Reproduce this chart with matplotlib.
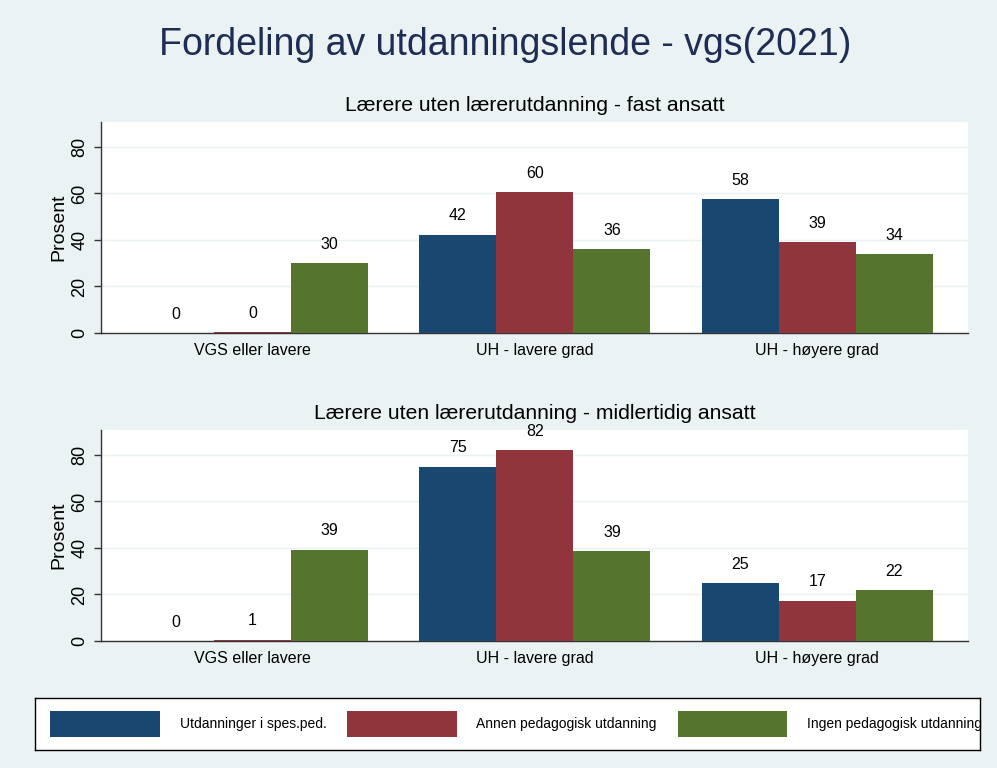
import matplotlib
matplotlib.use("Agg")
import matplotlib.pyplot as plt
import numpy as np
from matplotlib.patches import Patch

plt.rcParams['font.family'] = ['Liberation Sans', 'DejaVu Sans']

title = "Fordeling av utdanningslende - vgs(2021)"
categories = ["VGS eller lavere", "UH - lavere grad", "UH - høyere grad"]
series_names = ["Utdanninger i spes.ped.", "Annen pedagogisk utdanning", "Ingen pedagogisk utdanning"]
panel_titles = ["Lærere uten lærerutdanning - fast ansatt",
                "Lærere uten lærerutdanning - midlertidig ansatt"]
# values per panel: one list per series, across categories
fast_spesped = [0.0, 42.3, 57.7]
fast_annen = [0.4, 60.4, 39.2]
fast_ingen = [30.0, 36.2, 33.8]
midl_spesped = [0.0, 75.0, 25.0]
midl_annen = [0.6, 82.0, 17.4]
midl_ingen = [39.3, 38.7, 22.0]
yticks = [0, 20, 40, 60, 80]

colors = ["#1a476f", "#90353b", "#55752f"]
bg = "#eaf2f3"

fig = plt.figure(figsize=(9.97, 7.68), dpi=100, facecolor=bg)
fig.text(0.507, 1 - 45 / 768, title, ha="center", va="center", fontsize=27, color="#1f2d55")

panels = [[fast_spesped, fast_annen, fast_ingen], [midl_spesped, midl_annen, midl_ingen]]
tops = [122, 430]
x = np.arange(len(categories))
w = 0.2726
for p, (data, top) in enumerate(zip(panels, tops)):
    bottom_px = top + 211
    ax = fig.add_axes([101 / 997, (768 - bottom_px) / 768, 867 / 997, 211 / 768])
    ax.set_facecolor("white")
    for i, vals in enumerate(data):
        pos = x + (i - 1) * w
        ax.bar(pos, vals, width=w, color=colors[i], zorder=3, linewidth=0)
        for xp, v in zip(pos, vals):
            ax.annotate(f"{v:.0f}", (xp, v), xytext=(0, 8), textcoords="offset points",
                        ha="center", va="bottom", fontsize=11.5, color="black")
    ax.set_xlim(-0.536, 2.533)
    ax.set_ylim(0, 90.7)
    ax.set_yticks(yticks)
    ax.set_yticklabels([str(t) for t in yticks], rotation=90, va="center", fontsize=13)
    ax.set_xticks(x)
    ax.set_xticklabels(categories, fontsize=11.5)
    ax.tick_params(axis="x", length=0, pad=7)
    ax.tick_params(axis="y", length=5, width=1, color="#333333", pad=4)
    ax.grid(axis="y", color=bg, linewidth=1, zorder=0)
    ax.set_axisbelow(True)
    for s in ["top", "right"]:
        ax.spines[s].set_visible(False)
    for s in ["left", "bottom"]:
        ax.spines[s].set_color("#333333")
        ax.spines[s].set_linewidth(1)
    ax.set_ylabel("Prosent", fontsize=14, labelpad=3)
    ax.set_title(panel_titles[p], fontsize=15.2, pad=8)

# legend box
lax = fig.add_axes([35 / 997, (768 - 750) / 768, (980 - 35) / 997, 52 / 768])
lax.set_facecolor("white")
lax.set_xticks([]); lax.set_yticks([])
for s in lax.spines.values():
    s.set_color("black"); s.set_linewidth(1)
handles = [Patch(facecolor=c, edgecolor="none") for c in colors]
leg = lax.legend(handles, series_names, loc="center left", ncol=3, frameon=False,
                 prop={"size": 10},
                 handlelength=7.9, handleheight=2.6, handletextpad=1.4,
                 columnspacing=1.5, borderaxespad=0.0, bbox_to_anchor=(0.0105, 0.5))

fig.savefig("out.png", dpi=100, facecolor=bg)
